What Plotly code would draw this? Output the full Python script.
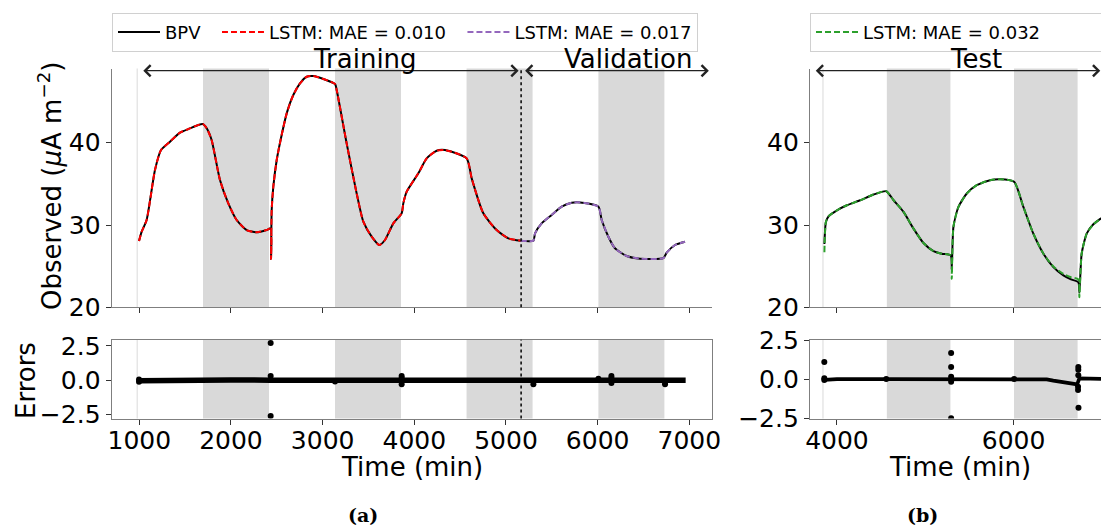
import plotly.graph_objects as go

FONT = "DejaVu Sans"
W, H = 1101, 527

# ---------------- panel (a): training + validation ----------------
t_train = [997, 1026, 1080, 1171, 1237, 1335, 1444, 1535, 1691, 1735, 1789, 1880,
           1971, 2062, 2171, 2280, 2389, 2433, 2437, 2444, 2462, 2499, 2553, 2608,
           2680, 2753, 2826, 2899, 3135, 3153, 3262, 3371, 3444, 3535, 3618, 3680,
           3771, 3862, 3880, 3917, 4044, 4135, 4244, 4335, 4571, 4626, 4753, 4898,
           5026, 5160]
bpv_train = [28.06, 29.19, 30.61, 36.68, 39.11, 40.13, 41.22, 41.66, 42.27, 41.75, 40.33, 35.47,
             32.63, 30.61, 29.39, 29.11, 29.39, 29.60, 25.87, 31.80, 34.66, 37.90, 40.94, 43.57,
             45.80, 47.21, 48.02, 48.10, 47.13, 46.40, 39.92, 33.85, 30.40, 28.58, 27.57, 28.18,
             30.20, 31.42, 32.63, 34.05, 36.28, 38.10, 39.03, 39.11, 38.10, 35.67, 31.42, 29.39,
             28.38, 28.10]
lstm_train = [28.06, 29.19, 30.61, 36.68, 39.11, 40.13, 41.22, 41.66, 42.27, 41.75, 40.33, 35.47,
              32.63, 30.61, 29.39, 29.11, 29.39, 29.60, 25.87, 31.80, 34.66, 37.90, 40.94, 43.57,
              45.80, 47.21, 48.02, 48.10, 47.13, 46.40, 39.92, 33.85, 30.40, 28.58, 27.57, 28.18,
              30.20, 31.42, 32.63, 34.05, 36.28, 38.10, 39.03, 39.11, 38.10, 35.67, 31.42, 29.39,
              28.38, 28.10]

t_val = [5160, 5299, 5317, 5389, 5498, 5608, 5717, 5808, 6008, 6044, 6117, 6189,
         6317, 6462, 6717, 6753, 6844, 6953]
bpv_val = [28.10, 28.10, 28.99, 30.20, 31.22, 32.23, 32.71, 32.75, 32.23, 30.61, 28.58, 27.17,
           26.23, 25.91, 25.99, 26.64, 27.57, 27.97]
lstm_val = [28.10, 28.10, 28.99, 30.20, 31.22, 32.23, 32.71, 32.75, 32.23, 30.61, 28.58, 27.17,
            26.23, 25.91, 25.99, 26.64, 27.57, 27.97]

# errors (a)
t_err_a = [997, 1500, 2000, 2433, 3000, 3500, 3862, 4500, 5000, 5299, 5800, 6150, 6500, 6735, 6960]
err_a = [-0.05, 0.02, 0.01, 0.0, 0.0, 0.01, 0.0, 0.0, 0.0, -0.02, 0.0, 0.0, 0.0, -0.03, 0.0]
t_out_a = [997, 997, 2433, 2433, 2433, 3135, 3862, 3862, 3862, 5299, 6008, 6150, 6150, 6150, 6735, 6735]
out_a = [-0.12, 0.05, 2.70, 0.30, -2.60, -0.10, 0.30, -0.30, 0.15, -0.30, 0.10, 0.30, -0.20, 0.15, -0.30, -0.15]

# ---------------- panel (b): test ----------------
t_test = [3858, 3875, 3905, 4000, 4113, 4264, 4414, 4558, 4641, 4754, 4867, 4980,
          5093, 5187, 5289, 5300, 5319, 5376, 5470, 5583, 5734, 5847, 6006, 6111,
          6224, 6338, 6451, 6564, 6650, 6733, 6745, 6771, 6828, 6903, 6960, 7050]
bpv_test = [27.70, 30.37, 31.06, 31.79, 32.40, 33.01, 33.70, 34.11, 33.01, 31.59, 29.56, 27.81,
            26.83, 26.51, 26.30, 24.60, 29.76, 32.20, 33.83, 34.84, 35.45, 35.57, 35.25, 32.20,
            28.95, 26.51, 24.88, 23.87, 23.40, 23.05, 21.80, 26.51, 28.95, 30.09, 30.57, 31.20]
lstm_test = [26.70, 30.37, 31.06, 31.79, 32.40, 33.01, 33.70, 34.11, 33.01, 31.59, 29.56, 27.81,
             26.83, 26.51, 26.30, 23.46, 29.76, 32.20, 33.83, 34.84, 35.45, 35.57, 35.25, 32.20,
             28.95, 26.51, 24.95, 24.05, 23.65, 23.40, 21.22, 26.51, 28.95, 30.09, 30.57, 31.20]

t_err_b = [3858, 4000, 4558, 5000, 5293, 5600, 6006, 6300, 6376, 6450, 6550, 6650, 6720, 6745, 6800, 6900, 6990]
err_b = [-0.05, 0.0, 0.0, 0.0, 0.0, 0.0, 0.0, 0.0, -0.02, -0.10, -0.20, -0.28, -0.34, 0.05, 0.03, 0.02, 0.02]
t_out_b = [3857, 3857, 3857, 4558, 5293, 5293, 5293, 5293, 5293, 6006, 6733, 6733, 6733, 6730, 6730, 6735]
out_b = [1.10, -0.05, 0.05, 0.0, 1.67, 0.78, 0.15, -0.17, -2.50, 0.0, 0.78, 0.60, 0.25, -0.49, -0.70, -1.83]

# ---------------- annotation data ----------------
bands_a = [[1695, 2415], [3135, 3855], [4570, 5290], [6008, 6728]]
bands_b = [[4565, 5285], [6005, 6725]]
edge_a, edge_b = 978, 3842
split_time = 5165
regions_a = [("Training", 1000, 5165, 3460), ("Validation", 5165, 7240, 6330)]
regions_b = [("Test", 3715, 7010, 5570)]
NB = "\u00a0\u00a0"
legend_names = ["BPV" + NB, "LSTM: MAE = 0.010" + NB, "LSTM: MAE = 0.017",
                "LSTM: MAE = 0.032" + NB * 5]

# ---------------- layout geometry (pixels) ----------------
xa_dom = [111.7 / W, 711.7 / W]
xb_dom = [810.0 / W, 1.0]
ymain_dom = [1 - 307.3 / H, 1 - 68.5 / H]
yerr_dom = [1 - 418.5 / H, 1 - 339.7 / H]

fig = go.Figure()

def line_tr(x, y, xa, ya, color, name, dash=None, width=2.0, legend="legend", showlegend=True):
    fig.add_trace(go.Scatter(x=x, y=y, mode="lines", xaxis=xa, yaxis=ya, name=name,
                             line=dict(color=color, width=width, dash=dash, shape="spline", smoothing=0.6),
                             legend=legend, showlegend=showlegend, hoverinfo="skip"))

line_tr(t_train + t_val[1:], bpv_train + bpv_val[1:], "x", "y", "black", legend_names[0], width=2.0)
line_tr(t_train, lstm_train, "x", "y", "#ff0000", legend_names[1], dash="6px,3px", width=2.0)
line_tr(t_val, lstm_val, "x", "y", "#9467bd", legend_names[2], dash="6px,3px", width=2.0)
line_tr(t_test, bpv_test, "x2", "y2", "black", "BPV", width=2.0, showlegend=False)
line_tr(t_test, lstm_test, "x2", "y2", "#2ca02c", legend_names[3], dash="6px,3px", width=2.0, legend="legend2")

# errors
fig.add_trace(go.Scatter(x=t_err_a, y=err_a, xaxis="x3", yaxis="y3", mode="lines",
                         line=dict(color="black", width=5.5), showlegend=False, hoverinfo="skip"))
fig.add_trace(go.Scatter(x=t_out_a, y=out_a, xaxis="x3", yaxis="y3", mode="markers",
                         marker=dict(color="black", size=6), showlegend=False, hoverinfo="skip"))
fig.add_trace(go.Scatter(x=t_err_b, y=err_b, xaxis="x4", yaxis="y4", mode="lines",
                         line=dict(color="black", width=3.7), showlegend=False, hoverinfo="skip"))
fig.add_trace(go.Scatter(x=t_out_b, y=out_b, xaxis="x4", yaxis="y4", mode="markers",
                         marker=dict(color="black", size=6), showlegend=False, hoverinfo="skip"))

shapes = []
for bands, pairs in [(bands_a, [("x", "y domain"), ("x3", "y3 domain")]),
                     (bands_b, [("x2", "y2 domain"), ("x4", "y4 domain")])]:
    for x0, x1 in bands:
        for xr, yr in pairs:
            shapes.append(dict(type="rect", xref=xr, yref=yr, x0=x0, x1=x1, y0=0, y1=1,
                               fillcolor="#d9d9d9", line=dict(width=0), layer="below"))
for xv, pairs in [(edge_a, [("x", "y domain"), ("x3", "y3 domain")]),
                  (edge_b, [("x2", "y2 domain"), ("x4", "y4 domain")])]:
    for xr, yr in pairs:
        shapes.append(dict(type="line", xref=xr, yref=yr, x0=xv, x1=xv, y0=0, y1=1,
                           line=dict(color="#e6e6e6", width=1.5), layer="below"))
for xr, yr in [("x", "y domain"), ("x3", "y3 domain")]:
    shapes.append(dict(type="line", xref=xr, yref=yr, x0=split_time, x1=split_time, y0=0, y1=1,
                       line=dict(color="black", width=1.5, dash="dot")))

ann = []
arrow_y = 48.75
for (label, s, e, c), xr, yr in [(r, "x", "y") for r in regions_a] + [(r, "x2", "y2") for r in regions_b]:
    ann.append(dict(x=e, y=arrow_y, ax=s, ay=arrow_y, xref=xr, yref=yr, axref=xr, ayref=yr,
                    text="", showarrow=True, arrowside="end+start", arrowhead=4, startarrowhead=4,
                    arrowsize=1.8, startarrowsize=1.8, arrowwidth=1.2, arrowcolor="#222",
                    standoff=2.5, startstandoff=2.5))
    ann.append(dict(x=c, y=48.05, xref=xr, yref=yr, text=label, showarrow=False,
                    xanchor="center", yanchor="bottom",
                    font=dict(family=FONT, size=26, color="black")))

def pann(text, px, py, size=26, angle=0, family=FONT):
    ann.append(dict(x=px / W, y=1 - py / H, xref="paper", yref="paper", text=text,
                    showarrow=False, xanchor="center", yanchor="middle", textangle=angle,
                    font=dict(family=family, size=size, color="black")))

pann("Observed (<i>μ</i>A m<sup>−2</sup>)", 50, 186, angle=-90)
pann("Errors", 26, 380, angle=-90)
pann("Time (min)", 411.7, 467)
pann("Time (min)", 960, 467)
pann("<b>(a)</b>", 363, 515, size=19, family="DejaVu Serif")
pann("<b>(b)</b>", 922, 515, size=19, family="DejaVu Serif")

axis_common = dict(showgrid=False, zeroline=False, showline=True, linecolor="#7f7f7f",
                   linewidth=1.3, ticks="outside", ticklen=5, tickwidth=1.2, tickcolor="#333",
                   tickfont=dict(family=FONT, size=25, color="black"))

fig.update_layout(
    width=W, height=H, margin=dict(l=0, r=0, t=0, b=0, autoexpand=False),
    paper_bgcolor="white", plot_bgcolor="white",
    xaxis=dict(axis_common, domain=xa_dom, anchor="y", range=[699, 7244],
               tickvals=[1000, 2000, 3000, 4000, 5000, 6000, 7000], showticklabels=False),
    yaxis=dict(axis_common, domain=ymain_dom, anchor="x", range=[20, 49.02], tickvals=[20, 30, 40]),
    xaxis3=dict(axis_common, domain=xa_dom, anchor="y3", range=[699, 7244], mirror=True,
                tickvals=[1000, 2000, 3000, 4000, 5000, 6000, 7000], ticklabelstandoff=-6),
    yaxis3=dict(axis_common, domain=yerr_dom, anchor="x3", range=[-2.79, 2.94], mirror=True,
                tickvals=[-2.5, 0, 2.5], ticktext=["−2.5", "0.0", "2.5"]),
    xaxis2=dict(axis_common, domain=xb_dom, anchor="y2", range=[3695, 6990],
                tickvals=[4000, 6000], showticklabels=False),
    yaxis2=dict(axis_common, domain=ymain_dom, anchor="x2", range=[20, 49.02], tickvals=[20, 30, 40]),
    xaxis4=dict(axis_common, domain=xb_dom, anchor="y4", range=[3695, 6990], mirror=True,
                tickvals=[4000, 6000], ticklabelstandoff=-6),
    yaxis4=dict(axis_common, domain=yerr_dom, anchor="x4", range=[-2.52, 2.52], mirror=False,
                tickvals=[-2.5, 0, 2.5], ticktext=["−2.5", "0.0", "2.5"]),
    legend=dict(x=112 / W, y=1 - 12.7 / H, xanchor="left", yanchor="top", orientation="h",
                bordercolor="#d0d0d0", borderwidth=1, bgcolor="white",
                font=dict(family=FONT, size=18, color="black"), itemwidth=42),
    legend2=dict(x=810 / W, y=1 - 12.7 / H, xanchor="left", yanchor="top", orientation="h",
                 bordercolor="#d0d0d0", borderwidth=1, bgcolor="white",
                 font=dict(family=FONT, size=18, color="black"), itemwidth=42),
    shapes=shapes, annotations=ann,
)

fig.write_html("out.html")
